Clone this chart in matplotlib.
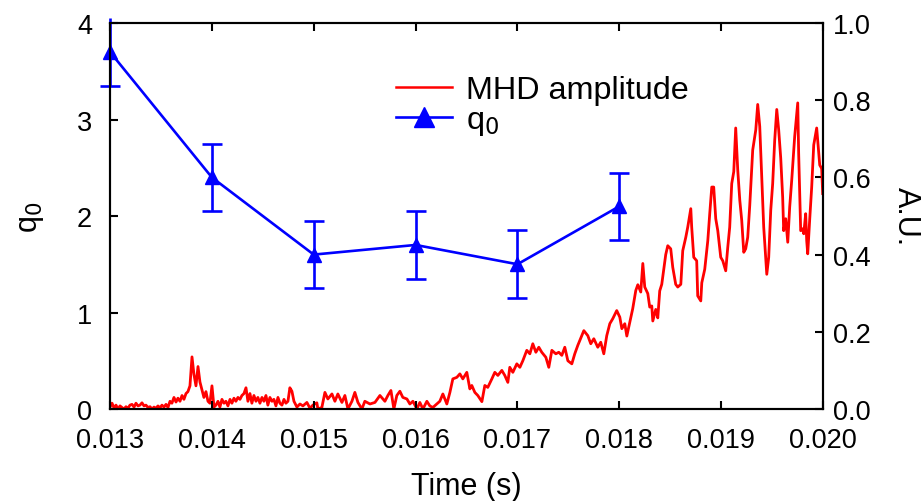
import numpy as np
import matplotlib.pyplot as plt
from matplotlib.lines import Line2D

plt.rcParams['font.family'] = ['Liberation Sans', 'DejaVu Sans']
plt.rcParams['font.size'] = 19.5

# q0 from the equilibrium fits
q_time = [0.013, 0.014, 0.015, 0.016, 0.017, 0.018]
q_vals = [3.7, 2.4, 1.6, 1.7, 1.5, 2.1]
q_err = [0.35, 0.35, 0.35, 0.35, 0.35, 0.35]

# MHD amplitude trace (time in ms, amplitude in A.U.)
mhd_t_ms = [
    13.000, 13.020, 13.039, 13.059, 13.079, 13.098, 13.118, 13.137, 13.157, 13.177,
    13.196, 13.216, 13.236, 13.255, 13.275, 13.294, 13.314, 13.334, 13.353, 13.373,
    13.393, 13.412, 13.432, 13.451, 13.471, 13.491, 13.510, 13.530, 13.550, 13.569,
    13.589, 13.608, 13.628, 13.648, 13.667, 13.687, 13.707, 13.726, 13.746, 13.765,
    13.785, 13.805, 13.824, 13.844, 13.864, 13.883, 13.903, 13.922, 13.942, 13.962,
    13.981, 14.001, 14.021, 14.040, 14.060, 14.079, 14.099, 14.119, 14.138, 14.158,
    14.178, 14.197, 14.217, 14.236, 14.256, 14.276, 14.295, 14.315, 14.335, 14.354,
    14.374, 14.393, 14.413, 14.433, 14.452, 14.472, 14.492, 14.511, 14.531, 14.550,
    14.570, 14.590, 14.609, 14.629, 14.649, 14.668, 14.688, 14.708, 14.727, 14.747,
    14.766,
    14.786, 14.806, 14.835, 14.865, 14.894, 14.933, 14.963, 14.992, 15.031, 15.041,
    15.080, 15.110, 15.139, 15.179, 15.208, 15.237, 15.277, 15.306, 15.336, 15.375,
    15.404, 15.434, 15.473, 15.502, 15.552, 15.601, 15.650, 15.699, 15.728, 15.758,
    15.787, 15.816, 15.846, 15.875, 15.915, 15.944, 15.974, 16.013, 16.042, 16.072,
    16.111, 16.140, 16.170, 16.209, 16.238, 16.268, 16.307, 16.337, 16.366, 16.405,
    16.435, 16.464, 16.503, 16.533,
    16.552, 16.582, 16.611, 16.651, 16.680, 16.709, 16.749, 16.778, 16.808, 16.847,
    16.876, 16.906, 16.925, 16.955, 16.994, 17.024, 17.053, 17.092, 17.122, 17.151,
    17.181, 17.210, 17.239, 17.279, 17.308, 17.338, 17.377, 17.406, 17.436, 17.465,
    17.495, 17.534, 17.563, 17.593, 17.632, 17.652, 17.691, 17.720, 17.750, 17.789,
    17.818, 17.848, 17.877, 17.907, 17.936, 17.975, 18.005, 18.025, 18.054, 18.074,
    18.103, 18.132, 18.162, 18.182, 18.211, 18.231, 18.250, 18.280, 18.299,
    18.319, 18.329, 18.358, 18.378, 18.397, 18.417, 18.437, 18.456, 18.476, 18.505,
    18.525, 18.554, 18.574, 18.604, 18.623, 18.653, 18.672, 18.702, 18.711, 18.731,
    18.760, 18.770, 18.800, 18.810, 18.839, 18.869, 18.888, 18.908, 18.927, 18.947,
    18.967, 18.996, 19.016, 19.045, 19.065, 19.084, 19.104, 19.124, 19.143, 19.163,
    19.183, 19.202, 19.222, 19.241, 19.261, 19.281, 19.310, 19.340, 19.359, 19.379,
    19.398, 19.418, 19.448, 19.467, 19.487, 19.506, 19.526, 19.546, 19.565, 19.585,
    19.604, 19.614, 19.634, 19.654, 19.673, 19.693, 19.722, 19.752, 19.761, 19.781,
    19.801, 19.811, 19.830, 19.840, 19.850, 19.869, 19.889, 19.909, 19.938, 19.948,
    19.968, 19.987, 19.997,
]
mhd_amp = [
    0.005, 0.015, 0.003, 0.010, 0.000, 0.008, 0.004, 0.000, 0.006, 0.002,
    0.010, 0.012, 0.005, 0.015, 0.008, 0.010, 0.016, 0.008, 0.010, 0.004,
    0.006, 0.000, 0.005, 0.002, 0.008, 0.003, 0.010, 0.005, 0.012, 0.004,
    0.020, 0.015, 0.030, 0.018, 0.028, 0.020, 0.035, 0.025, 0.040, 0.045,
    0.060, 0.135, 0.090, 0.060, 0.110, 0.070, 0.050, 0.030, 0.045, 0.020,
    0.015, 0.060, 0.005, 0.010, 0.020, 0.005, 0.025, 0.015, 0.020, 0.008,
    0.025, 0.015, 0.028, 0.020, 0.030, 0.025, 0.035, 0.040, 0.055, 0.020,
    0.040, 0.015, 0.035, 0.020, 0.030, 0.015, 0.030, 0.020, 0.035, 0.010,
    0.030, 0.020, 0.025, 0.008, 0.030, 0.015, 0.010, 0.025, 0.015, 0.020,
    0.055,
    0.046, 0.020, 0.005, 0.013, 0.008, 0.017, 0.002, 0.010, 0.016, 0.000,
    0.004, 0.043, 0.026, 0.039, 0.020, 0.039, 0.017, 0.035, 0.000, 0.020,
    0.043, 0.017, 0.000, 0.020, 0.013, 0.017, 0.035, 0.020, 0.035, 0.048,
    0.000, 0.035, 0.046, 0.030, 0.026, 0.013, 0.020, 0.000, 0.017, 0.000,
    0.020, 0.008, 0.004, 0.013, 0.020, 0.039, 0.013, 0.043, 0.078, 0.082,
    0.091, 0.078, 0.095, 0.052,
    0.061, 0.043, 0.035, 0.019, 0.061, 0.056, 0.078, 0.095, 0.087, 0.100,
    0.087, 0.069, 0.108, 0.095, 0.117, 0.108, 0.125, 0.152, 0.143, 0.169,
    0.147, 0.160, 0.147, 0.134, 0.108, 0.152, 0.143, 0.147, 0.139, 0.160,
    0.125, 0.117, 0.143, 0.165, 0.190, 0.203, 0.190, 0.169, 0.182, 0.160,
    0.173, 0.143, 0.190, 0.221, 0.234, 0.255, 0.238, 0.208, 0.221, 0.189,
    0.225, 0.260, 0.307, 0.322, 0.303, 0.377, 0.316, 0.299, 0.264,
    0.267, 0.228, 0.258, 0.236, 0.306, 0.323, 0.362, 0.400, 0.423, 0.415,
    0.367, 0.323, 0.316, 0.323, 0.410, 0.445, 0.471, 0.519, 0.471, 0.393,
    0.384, 0.293, 0.280, 0.327, 0.362, 0.436, 0.506, 0.575, 0.575, 0.493,
    0.462, 0.393, 0.384, 0.358, 0.419, 0.471, 0.584, 0.615, 0.728, 0.619,
    0.541, 0.489, 0.406, 0.415, 0.445, 0.528, 0.671, 0.723, 0.789, 0.732,
    0.602, 0.471, 0.349, 0.393, 0.515, 0.584, 0.697, 0.776, 0.723, 0.650,
    0.549, 0.462, 0.493, 0.432, 0.523, 0.593, 0.706, 0.793, 0.663, 0.462,
    0.467, 0.454, 0.506, 0.436, 0.402, 0.489, 0.575, 0.684, 0.728, 0.697,
    0.632, 0.623, 0.558,
]

mhd_t = np.array(mhd_t_ms) / 1000.0
blue = '#0000ff'
red = '#ff0000'

fig = plt.figure(figsize=(9.24, 5.02), dpi=100)
ax = fig.add_axes([110 / 924, 1 - 410 / 502, 713 / 924, 386 / 502])
ax2 = ax.twinx()

# red trace on the right axis, behind the q0 curve
ax2.plot(mhd_t, mhd_amp, color=red, lw=2.0)
ax.set_zorder(ax2.get_zorder() + 1)
ax.patch.set_visible(False)

line, caps, bars = ax.errorbar(q_time, q_vals, yerr=q_err, color=blue, lw=1.9,
                               marker='^', ms=10, capsize=7, capthick=1.9,
                               elinewidth=1.9, clip_on=False)
# cap above the top of the frame is cut off
for c in caps:
    if max(c.get_ydata()) > 4:
        c.set_clip_on(True)

ax.set_xlim(0.013, 0.020)
ax.set_ylim(0, 4)
ax2.set_ylim(0, 1.0)
xt = np.arange(0.013, 0.0201, 0.001)
ax.set_xticks(xt)
ax.set_xticklabels(['%.3f' % v for v in xt])
ax.set_yticks([0, 1, 2, 3, 4])
ax2.set_yticks([0.0, 0.2, 0.4, 0.6, 0.8, 1.0])
ax2.set_yticklabels(['0.0', '0.2', '0.4', '0.6', '0.8', '1.0'])

ax.set_xlabel('Time (s)', fontsize=22, labelpad=13)
ax.set_ylabel('q$_0$', fontsize=22, labelpad=22)
ax2.set_ylabel('A.U.', fontsize=22, rotation=270, labelpad=36)

for a in (ax, ax2):
    for s in a.spines.values():
        s.set_linewidth(1.5)
ax.tick_params(direction='in', length=6, width=1.5, top=True)
ax.tick_params(axis='x', pad=13)
ax.tick_params(axis='y', pad=13)
ax2.tick_params(direction='in', length=6, width=1.5, pad=7)

handles = [Line2D([], [], color=red, lw=1.8),
           Line2D([], [], color=blue, lw=1.9, marker='^', ms=10)]
fig.legend(handles, ['MHD amplitude', 'q$_0$'], loc='upper left',
           bbox_to_anchor=(380 / 924, 1 - 60 / 502), frameon=False, fontsize=23.3,
           borderpad=0, handlelength=1.73, handletextpad=0.43,
           labelspacing=0.0, markerscale=1.4)

fig.savefig('out.png', dpi=100)
